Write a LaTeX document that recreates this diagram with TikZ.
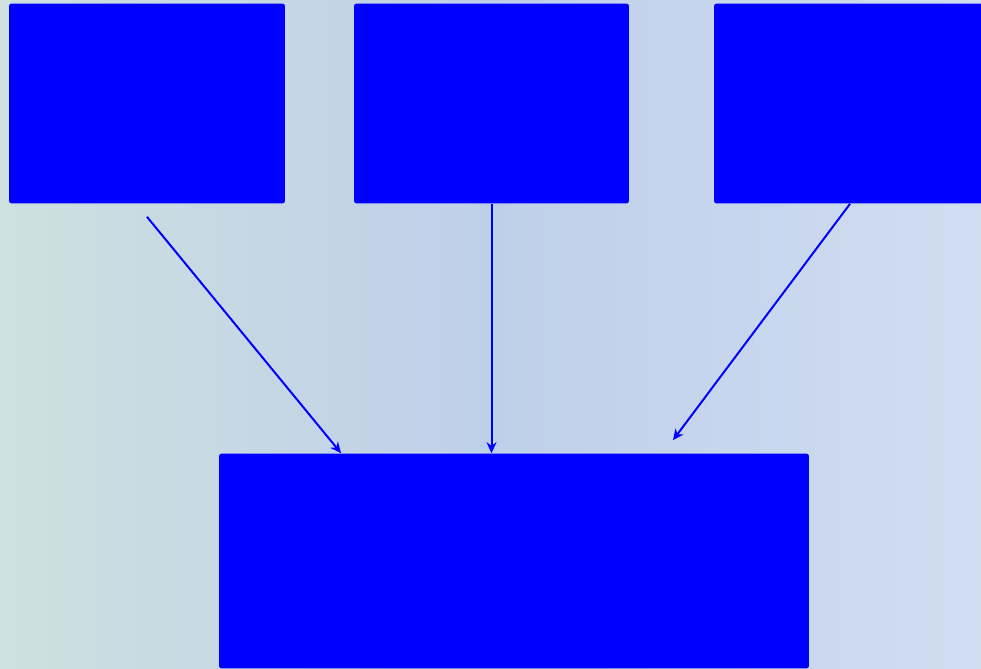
\documentclass[tikz,border=0pt]{standalone}
\usepackage{tikz}
\usetikzlibrary{arrows.meta,positioning,calc}

\definecolor{bgleft}{RGB}{206,224,223}
\definecolor{bgmid}{RGB}{190,207,233}
\definecolor{bgright}{RGB}{209,221,241}

\tikzset{
  blok/.style={fill=blue, draw=none, rounded corners=1.5pt, inner sep=0pt},
  pijl/.style={-{Stealth[length=0.22cm,width=0.2cm]}, blue, line width=0.04cm}
}

\begin{document}
\begin{tikzpicture}[x=0.02cm,y=-0.02cm]
  % achtergrond
  \useasboundingbox (0,0) rectangle (981,669);
  \clip (0,0) rectangle (981,669);
  \shade[left color=bgleft, right color=bgright, middle color=bgmid] (0,0) rectangle (981,669);

  % bovenste rij
  \node[blok, minimum width=5.52cm, minimum height=4cm] (bron1) at (147,103.5) {};
  \node[blok, minimum width=5.5cm, minimum height=4cm] (bron2) at (491.5,103.5) {};
  \node[blok, minimum width=5.44cm, minimum height=4cm] (bron3) at (850,103.5) {};

  % onderste blok
  \node[blok, minimum width=11.8cm, minimum height=4.3cm] (doel) at (514,561) {};

  % pijlen
  \coordinate (van1) at ([yshift=-0.26cm]bron1.south);
  \coordinate (naar1) at ([xshift=-3.46cm]doel.north);
  \coordinate (naar3) at ([xshift=3.18cm,yshift=0.26cm]doel.north);
  \draw[pijl] (van1) -- (naar1);
  \draw[pijl] (bron2.south) -- (bron2.south |- doel.north);
  \draw[pijl] (bron3.south) -- (naar3);
\end{tikzpicture}
\end{document}
